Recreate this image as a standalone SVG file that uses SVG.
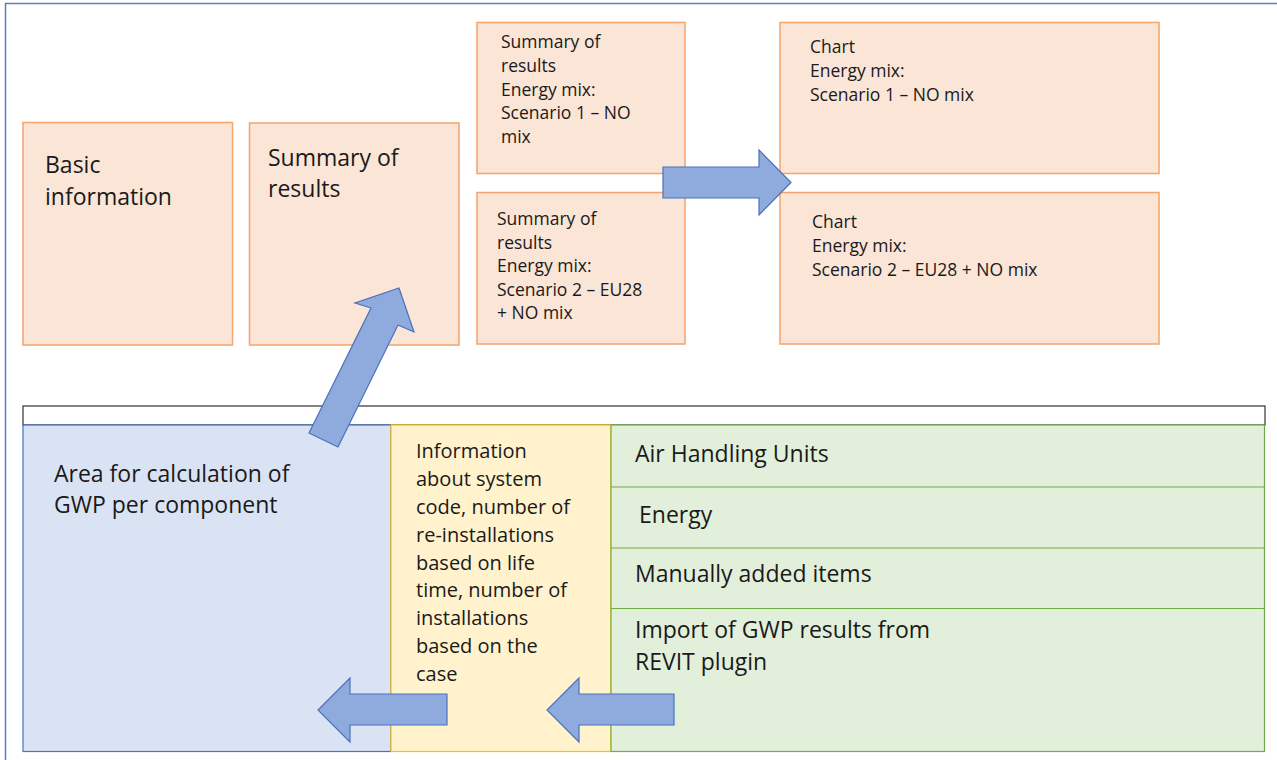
<svg xmlns="http://www.w3.org/2000/svg" width="1277" height="760" viewBox="0 0 1277 760">
<style>
.box{fill:#FBE5D6;stroke:#F4A46C;stroke-width:1.5}
.t{font-family:"Open Sans","Noto Sans",sans-serif;fill:#1a1a1a}
.L{font-size:23px}
.S{font-size:17.5px}
.Y{font-size:20px}
.arr{fill:#8FAADC;stroke:#4A72BE;stroke-width:1.2}
</style>
<rect width="1277" height="760" fill="#ffffff"/>
<path d="M5.5,760 V3.5 H1277" fill="none" stroke="#5B7FC4" stroke-width="1.5"/>

<g id="basic-information">
<rect class="box" x="23" y="122.5" width="209.5" height="222.5"/>
<text class="t L"><tspan x="45" y="173">Basic</tspan><tspan x="45" y="205">information</tspan></text>
</g>
<g id="summary-of-results">
<rect class="box" x="249.5" y="123" width="209.5" height="222"/>
<text class="t L"><tspan x="268" y="165.5">Summary of</tspan><tspan x="268" y="197">results</tspan></text>
</g>
<g id="summary-scenario-1">
<rect class="box" x="477" y="22.5" width="208" height="151"/>
<text class="t S"><tspan x="501" y="48.3">Summary of</tspan><tspan x="501" y="71.9">results</tspan><tspan x="501" y="95.5">Energy mix:</tspan><tspan x="501" y="119.1">Scenario 1 – NO</tspan><tspan x="501" y="142.7">mix</tspan></text>
</g>
<g id="summary-scenario-2">
<rect class="box" x="477" y="192.5" width="208" height="151.5"/>
<text class="t S"><tspan x="497" y="225">Summary of</tspan><tspan x="497" y="248.6">results</tspan><tspan x="497" y="272.2">Energy mix:</tspan><tspan x="497" y="295.8">Scenario 2 – EU28</tspan><tspan x="497" y="319.4">+ NO mix</tspan></text>
</g>
<g id="chart-scenario-1">
<rect class="box" x="780" y="22.5" width="379" height="151"/>
<text class="t S"><tspan x="810" y="53.3">Chart</tspan><tspan x="810" y="77">Energy mix:</tspan><tspan x="810" y="100.7">Scenario 1 – NO mix</tspan></text>
</g>
<g id="chart-scenario-2">
<rect class="box" x="780" y="192.5" width="379" height="151.5"/>
<text class="t S"><tspan x="812" y="228.3">Chart</tspan><tspan x="812" y="252">Energy mix:</tspan><tspan x="812" y="275.7">Scenario 2 – EU28 + NO mix</tspan></text>
</g>

<g id="header-strip">
<rect x="23" y="406" width="1242" height="19" fill="#ffffff" stroke="#333333" stroke-width="1.2"/>
</g>
<g id="gwp-area">
<rect x="23" y="425" width="368" height="326.5" fill="#DAE3F3" stroke="#4472C4" stroke-width="1.2"/>
<text class="t L"><tspan x="54" y="481.7">Area for calculation of</tspan><tspan x="54" y="513.3">GWP per component</tspan></text>
</g>
<g id="system-info">
<rect x="391" y="425" width="220" height="326.5" fill="#FFF2CC" stroke="#FFC000" stroke-width="1.2"/>
<text class="t Y"><tspan x="416" y="458.3">Information</tspan><tspan x="416" y="486.1">about system</tspan><tspan x="416" y="513.9">code, number of</tspan><tspan x="416" y="541.7">re-installations</tspan><tspan x="416" y="569.5">based on life</tspan><tspan x="416" y="597.3">time, number of</tspan><tspan x="416" y="625.1">installations</tspan><tspan x="416" y="652.9">based on the</tspan><tspan x="416" y="680.7">case</tspan></text>
</g>
<g id="inputs">
<rect x="611" y="425" width="653.5" height="326.5" fill="#E2EFDA" stroke="#70AD47" stroke-width="1.2"/>
<line x1="611" y1="487" x2="1264.5" y2="487" stroke="#70AD47" stroke-width="1.2"/>
<line x1="611" y1="548" x2="1264.5" y2="548" stroke="#70AD47" stroke-width="1.2"/>
<line x1="611" y1="608.5" x2="1264.5" y2="608.5" stroke="#70AD47" stroke-width="1.2"/>
<text class="t L" x="635" y="462">Air Handling Units</text>
<text class="t L" x="639" y="523.3">Energy</text>
<text class="t L" x="635" y="581.7">Manually added items</text>
<text class="t L"><tspan x="635" y="638.3">Import of GWP results from</tspan><tspan x="635" y="670">REVIT plugin</tspan></text>
</g>

<g id="connectors">
<polygon class="arr" points="663,167 759,167 759,150 791,182.5 759,215 759,198 663,198"/>
<polygon class="arr" points="399,288 414,332 398,325 338,447 309,433 371,308 355,303"/>
<polygon class="arr" points="447,694 350,694 350,678 318,710 350,742 350,725 447,725"/>
<polygon class="arr" points="674,694 579,694 579,678 547,710 579,742 579,725 674,725"/>
</g>
</svg>
